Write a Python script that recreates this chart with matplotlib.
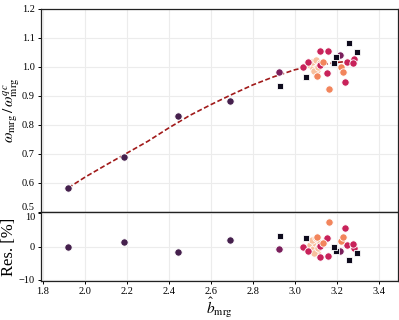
import matplotlib
matplotlib.use("Agg")
import matplotlib.pyplot as plt

plt.rcParams['font.family'] = ['Liberation Serif', 'DejaVu Serif']
plt.rcParams['mathtext.fontset'] = 'stix'

# ---- data ----
# fitted curve
fit_b = [1.92, 2.0, 2.1, 2.2, 2.3, 2.4, 2.5, 2.6, 2.7, 2.8, 2.9, 3.0, 3.1, 3.2, 3.27]
fit_w = [0.583, 0.620, 0.662, 0.703, 0.744, 0.790, 0.833, 0.870, 0.905, 0.938, 0.966, 0.990, 1.005, 1.015, 1.020]

# dark purple points
dp_b = [1.92, 2.186, 2.441, 2.69]
dp_w = [0.582, 0.689, 0.831, 0.883]
dp_r = [0.0, 1.2, -1.5, 1.8]

# purple-magenta points
pm_b = [2.925, 3.214]
pm_w = [0.981, 1.041]
pm_r = [-0.6, -1.4]

# crimson points
cr_b = [3.119, 3.157, 3.282, 3.249, 3.278, 3.154, 3.238, 3.04, 3.063, 3.119]
cr_w = [1.053, 1.053, 1.028, 1.017, 1.012, 0.978, 0.948, 0.998, 1.018, 1.006]
cr_r = [-3.2, -2.9, -0.4, 0.4, 0.8, 2.6, 5.6, -0.2, -1.4, 0.1]

# orange points
or_b = [3.217, 3.227, 3.103, 3.163, 3.135]
or_w = [0.998, 0.982, 0.968, 0.922, 1.018]
or_r = [1.6, 2.8, 2.8, 7.2, 1.0]

# peach points
pe_b = [3.07, 3.085, 3.095, 3.105, 3.115, 3.08, 3.10, 3.12, 3.09, 3.11]
pe_w = [1.005, 0.995, 1.012, 0.990, 1.002, 1.018, 1.025, 1.012, 0.985, 0.998]
pe_r = [0.5, -0.8, 0.9, -1.5, 0.2, 1.8, 2.5, 1.0, -2.0, -0.5]

# black squares
sq_b = [2.929, 3.052, 3.259, 3.294, 3.195, 3.186]
sq_w = [0.935, 0.966, 1.082, 1.051, 1.033, 1.014]
sq_r = [3.0, 2.4, -3.9, -1.9, -1.2, 0.0]

c_dp = '#45204d'
c_pm = '#7a1f5c'
c_cr = '#c8225a'
c_or = '#f2855c'
c_pe = '#f8c09e'
c_sq = '#0e0b1d'

fig = plt.figure(figsize=(3.99, 3.20), dpi=100)
left, right = 40.5 / 399, 398 / 399
top_t, mid, bot = 1 - 8.7 / 320, 1 - 212 / 320, 1 - 281 / 320
ax1 = fig.add_axes([left, mid, right - left, top_t - mid])
ax2 = fig.add_axes([left, bot, right - left, mid - bot], sharex=ax1)

ms = 28
for ax in (ax1, ax2):
    ax.grid(True, color='#ececec', linewidth=0.8)
    ax.set_axisbelow(True)
    for s in ax.spines.values():
        s.set_linewidth(0.9)
        s.set_color('#222222')
    ax.tick_params(labelsize=7.5, length=2.5, width=0.7, pad=1.5)

ax1.plot(fit_b, fit_w, color='#a11a1a', ls=(0, (3, 1.5)), lw=1.2, zorder=2)

series = [
    (dp_b, dp_w, dp_r, c_dp, 'o'),
    (pm_b, pm_w, pm_r, c_pm, 'o'),
    (pe_b, pe_w, pe_r, c_pe, 'o'),
    (cr_b, cr_w, cr_r, c_cr, 'o'),
    (or_b, or_w, or_r, c_or, 'o'),
    (sq_b, sq_w, sq_r, c_sq, 's'),
]
for b, w, r, c, m in series:
    ax1.scatter(b, w, s=ms if m == 'o' else 22, c=c, marker=m, edgecolors='white', linewidths=0.6, zorder=3)
    ax2.scatter(b, r, s=ms if m == 'o' else 22, c=c, marker=m, edgecolors='white', linewidths=0.6, zorder=3)

ax1.set_xlim(1.788, 3.49)
ax1.set_ylim(0.5, 1.2)
ax1.set_yticks([0.5, 0.6, 0.7, 0.8, 0.9, 1.0, 1.1, 1.2])
ax1.set_yticklabels(['0.5', '0.6', '0.7', '0.8', '0.9', '1.0', '1.1', '1.2'])
ax1.get_yticklabels()[0].set_va('bottom')
ax1.tick_params(axis='x', labelbottom=False, length=0)
ax1.set_ylabel(r'$\omega_{\rm mrg}\,/\,\omega^{qc}_{\rm mrg}$', fontsize=11, labelpad=0)

ax2.set_ylim(-10.3, 10.3)
ax2.set_yticks([-10, 0, 10])
ax2.set_yticklabels(['\u221210', '0', '10'])
ax2.get_yticklabels()[2].set_va('top')
ax2.set_xticks([1.8, 2.0, 2.2, 2.4, 2.6, 2.8, 3.0, 3.2, 3.4])
ax2.set_xticklabels(['1.8', '2.0', '2.2', '2.4', '2.6', '2.8', '3.0', '3.2', '3.4'])
ax2.set_ylabel('Res. [%]', fontsize=12, labelpad=1)
ax2.set_xlabel(r'$\hat{b}_{\rm mrg}$', fontsize=11, labelpad=0)

fig.savefig('out.png', dpi=100)
